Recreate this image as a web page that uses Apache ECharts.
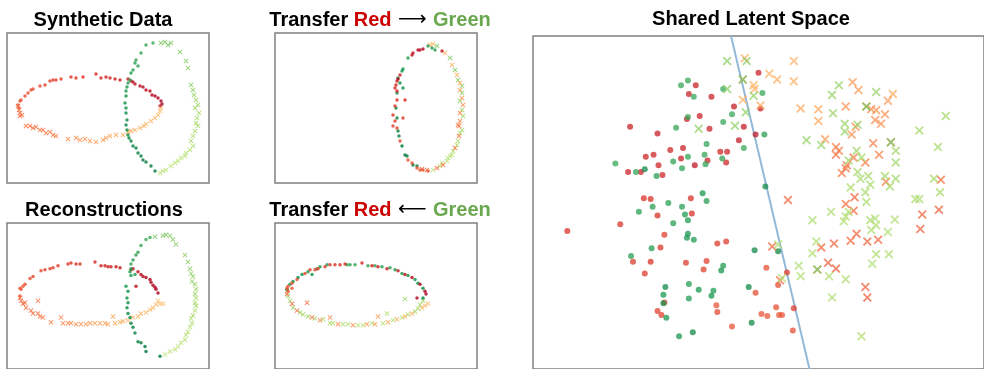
<!DOCTYPE html>
<html>
<head>
<meta charset="utf-8">
<script src="https://cdn.jsdelivr.net/npm/echarts@6/dist/echarts.min.js"></script>
<style>
  html, body { margin: 0; padding: 0; background: #ffffff; }
  #chart { width: 984px; height: 369px; }
</style>
</head>
<body>
<div id="chart"></div>
<script>
// Every point is [x, y, c]: x / y in panel units (y counted downward from the frame top),
// c = position on the red -> yellow -> green colour ramp (0 = deep red, 1 = deep green).

// ---- Synthetic Data ----
const synthRed = [[11,72,.17],[12,75,.17],[13,68,.17],[14,67,.17],[18,63,.16],[21,60,.16],[24,57,.16],[26,56,.15],[33,53,.15],[38,52,.14],[43,48,.14],[46,47,.13],[49,47,.13],[54,46,.13],[64,44,.12],[69,45,.12],[76,44,.11],[89,41,.1],[94,45,.1],[99,44,.09],[103,45,.09],[108,46,.08],[113,47,.08],[121,46,.07],[124,48,.06],[126,49,.05],[128,51,.05],[133,53,.05],[136,54,.04],[139,57,.04],[143,58,.04],[145,62,.03],[148,63,.03],[151,65,.03],[154,68,.02],[155,71,.02],[153,73,.02]];
const synthOrange = [[11,73,.2],[12,77,.2],[13,80,.2],[13,83,.2],[15,82,.2],[19,93,.21],[23,93,.21],[26,95,.21],[29,94,.22],[33,97,.22],[36,97,.22],[39,100,.23],[43,99,.23],[46,102,.23],[49,103,.24],[61,106,.25],[69,105,.25],[73,107,.26],[78,106,.26],[83,108,.27],[89,109,.27],[96,107,.28],[99,105,.28],[103,103,.29],[109,102,.29],[116,102,.3],[121,99,.3],[124,98,.3],[128,97,.31],[133,95,.31],[137,93,.31],[139,91,.32],[144,88,.32],[148,85,.32],[151,82,.33],[153,78,.33],[154,75,.33]];
const synthGreenDot = [[139,12,.85],[146,10,.85],[134,20,.86],[129,27,.86],[128,30,.87],[131,33,.87],[126,37,.87],[124,40,.88],[123,47,.88],[121,50,.88],[120,54,.89],[119,58,.89],[119,63,.9],[118,70,.9],[119,75,.9],[119,80,.91],[120,87,.91],[119,92,.92],[120,97,.92],[121,102,.92],[122,105,.93],[124,108,.93],[126,113,.93],[129,115,.94],[131,120,.94],[134,123,.94],[136,127,.95],[139,129,.95],[144,133,.95],[148,138,.95]];
const synthGreenX = [[154,10,.76],[158,9,.76],[161,12,.76],[164,10,.75],[173,19,.75],[179,28,.75],[181,35,.74],[184,52,.73],[186,57,.73],[187,62,.72],[189,67,.72],[191,72,.71],[188,75,.71],[192,80,.7],[190,85,.7],[189,90,.7],[191,93,.69],[188,98,.69],[186,103,.68],[184,108,.68],[186,113,.67],[183,117,.67],[179,120,.66],[178,123,.66],[174,125,.66],[171,128,.65],[168,130,.65],[164,133,.65],[159,137,.65],[156,138,.65],[153,140,.65]];

// ---- Reconstructions ----
const reconRed = [[13,67,.17],[16,65,.17],[18,63,.16],[23,57,.16],[26,55,.15],[34,49,.15],[38,48,.14],[43,47,.14],[46,46,.13],[51,44,.13],[61,42,.12],[64,41,.12],[69,42,.11],[73,42,.11],[88,40,.1],[94,44,.09],[98,44,.09],[101,45,.08],[104,45,.08],[109,45,.07],[113,46,.07],[124,48,.06],[126,47,.05],[131,50,.05],[134,53,.04],[136,55,.04],[139,56,.04],[143,58,.03],[144,61,.03],[146,64,.03],[148,66,.02],[149,68,.02],[151,72,.02],[129,65,.05],[14,68,.17],[13,75,.17]];
const reconOrange = [[13,77,.2],[14,80,.2],[16,83,.2],[18,82,.2],[19,87,.21],[24,90,.21],[26,93,.21],[31,93,.22],[33,96,.22],[36,97,.22],[31,80,.21],[44,102,.23],[54,97,.24],[56,103,.24],[61,103,.25],[64,103,.25],[69,104,.26],[74,104,.26],[79,104,.27],[83,103,.27],[88,103,.28],[93,103,.28],[98,103,.28],[101,104,.29],[106,96,.29],[108,103,.29],[113,102,.3],[116,101,.3],[121,100,.3],[126,97,.31],[131,96,.31],[134,93,.31],[139,92,.32],[143,89,.32],[146,87,.32],[149,84,.33],[153,83,.33],[156,83,.33],[151,80,.33]];
const reconGreenDot = [[139,17,.85],[143,15,.85],[134,23,.86],[131,30,.86],[129,33,.87],[126,38,.87],[124,42,.87],[124,47,.88],[123,50,.88],[124,54,.88],[128,53,.88],[119,65,.89],[121,70,.9],[120,77,.9],[121,82,.91],[120,87,.91],[121,93,.92],[123,97,.92],[124,103,.93],[126,107,.93],[128,113,.93],[131,122,.94],[134,123,.94],[138,127,.95],[139,132,.95],[153,137,.95]];
const reconGreenX = [[148,14,.76],[156,13,.76],[159,12,.76],[163,13,.75],[166,17,.75],[169,22,.75],[178,33,.74],[181,40,.74],[183,47,.73],[184,52,.73],[186,55,.72],[185,60,.72],[188,63,.72],[189,68,.71],[188,73,.71],[189,77,.7],[188,82,.7],[189,85,.7],[188,90,.69],[186,95,.69],[184,98,.68],[185,103,.68],[183,107,.67],[181,112,.67],[179,115,.66],[178,120,.66],[174,123,.66],[171,127,.65],[168,130,.65],[163,132,.65],[158,135,.65]];

// ---- Transfer Red -> Green ----
const toGreenRed = [[137,22,.05],[138,20,.05],[143,17,.04],[148,16,.03],[145,17,.04],[125,42,.08],[122,48,.08],[121,52,.09],[120,55,.1],[130,67,.1],[122,67,.11],[120,73,.12],[118,82,.12],[120,88,.13],[128,85,.13],[118,93,.14],[122,95,.14],[125,108,.15],[133,127,.16],[137,130,.16],[142,135,.17],[145,137,.17],[148,137,.17],[153,138,.17],[167,18,.06],[123,46,.03],[122,58,.09]];
const toGreenGreenDot = [[153,13,.88],[157,15,.88],[160,17,.87],[133,25,.88],[127,38,.9],[123,45,.9],[128,55,.91],[125,50,.91],[122,60,.92],[121,75,.93],[122,85,.93],[123,98,.94],[124,103,.94],[127,113,.95],[130,122,.95],[132,123,.95],[138,132,.95],[142,133,.95],[128,36,.9]];
const toGreenOrange = [[155,12,.32],[158,11,.32],[170,20,.31],[177,32,.31],[182,42,.3],[185,50,.29],[185,57,.28],[187,65,.27],[188,72,.26],[185,80,.25],[185,88,.24],[184,93,.23],[184,103,.22],[180,115,.21],[168,132,.21],[162,135,.2],[152,137,.2],[147,136,.2],[183,92,.22]];
const toGreenGreenX = [[162,13,.76],[175,25,.75],[180,37,.75],[183,47,.74],[187,53,.73],[187,60,.73],[185,68,.72],[187,77,.71],[188,83,.7],[187,97,.69],[185,100,.69],[183,108,.68],[182,112,.67],[178,118,.67],[177,122,.66],[173,125,.66],[172,128,.65],[165,133,.65],[158,137,.65],[167,130,.65],[175,123,.66]];

// ---- Transfer Red <- Green ----
const toRedRed = [[12,67,.17],[13,65,.17],[17,62,.16],[22,58,.16],[30,52,.15],[35,48,.14],[40,48,.14],[43,47,.13],[50,45,.13],[55,43,.12],[60,43,.12],[65,43,.11],[70,42,.11],[87,41,.1],[97,44,.09],[103,45,.08],[112,47,.07],[123,49,.06],[130,53,.05],[137,56,.04],[145,63,.03],[150,70,.02],[151,73,.02],[142,77,.03],[17,67,.17],[13,70,.17]];
const toRedGreenDot = [[15,63,.9],[18,60,.9],[23,56,.9],[27,53,.9],[33,50,.89],[37,53,.89],[42,47,.88],[45,45,.88],[52,43,.88],[72,43,.87],[75,43,.87],[80,43,.86],[93,44,.86],[100,44,.86],[107,45,.87],[115,46,.87],[120,48,.88],[127,52,.88],[133,54,.89],[140,58,.9],[143,62,.91],[148,67,.92],[148,77,.93],[12,68,.95]];
const toRedOrange = [[17,83,.2],[22,90,.21],[32,82,.21],[37,97,.22],[45,100,.23],[55,97,.24],[63,104,.25],[78,105,.26],[92,104,.27],[100,104,.28],[103,96,.28],[113,102,.29],[122,99,.3],[130,96,.31],[137,93,.31],[147,87,.32],[150,85,.33],[153,83,.33],[12,73,.2]];
const toRedGreenX = [[12,70,.72],[13,75,.72],[15,80,.71],[18,87,.71],[25,92,.7],[28,94,.7],[33,96,.7],[40,98,.69],[48,99,.69],[55,103,.68],[58,103,.68],[68,104,.67],[73,104,.67],[83,105,.66],[88,105,.66],[97,103,.66],[108,103,.66],[112,93,.67],[118,100,.67],[127,97,.68],[133,94,.68],[140,91,.69],[143,88,.7],[145,84,.7],[148,80,.71],[130,78,.72]];

// ---- Shared Latent Space ----
const latentRed = [
  [166,51,.07],[159,60,.07],[182,63,.07],[205,73,.06],[170,83,.07],[157,86,.07],[215,94,.06],[180,96,.07],[99,94,.07],[127,101,.07],[210,108,.06],[153,116,.07],[140,118,.08],[123,123,.08],[115,125,.08],[191,120,.08],[198,120,.08],[151,127,.07],[197,131,.08],[178,129,.07],[165,134,.05],[128,134,.08],[97,141,.07],[110,141,.07],[132,144,.08],[227,102,.05],[230,38,.07],[232,75,.07],
  [113,168,.1],[120,169,.1],[161,168,.1],[127,186,.1],[162,184,.1],[89,195,.11],[35,202,.1],[134,206,.12],[188,215,.12],[197,213,.12],[130,219,.11],[102,234,.12],[120,234,.11],[156,235,.12],[177,233,.13],[174,242,.13],[114,246,.12],[127,285,.13],[131,289,.13],[134,276,.12],
  [238,240,.15],[259,245,.12],[250,258,.15],[227,266,.15],[248,281,.15],[266,282,.12],[233,288,.16],[239,290,.16],[251,289,.16],[254,289,.16],[265,305,.15],[203,301,.16],[187,279,.16],[188,286,.14]
];
const latentGreenDot = [
  [194,55,.86],[151,51,.86],[158,46,.86],[164,63,.86],[203,81,.86],[158,84,.86],[194,89,.86],[146,95,.86],[215,116,.86],[177,112,.87],[175,123,.86],[158,125,.87],[193,127,.87],[143,130,.87],[176,133,.87],[152,137,.87],[84,132,.86],[105,141,.87],[114,138,.93],[126,145,.88],[173,163,.9],[234,59,.86],[236,102,.88],
  [237,156,.92],[177,171,.88],[122,177,.88],[138,173,.88],[152,177,.88],[108,182,.88],[155,185,.89],[158,191,.89],[143,194,.88],[158,205,.9],[157,209,.9],[164,211,.89],[121,220,.89],[100,228,.88],[194,238,.89],[192,243,.9],[226,222,.93],[250,223,.93],[135,260,.93],[159,257,.89],[169,263,.9],[184,264,.89],[182,269,.9],[220,260,.93],[133,268,.9],[159,272,.89],[133,277,.91],[136,292,.9],[223,297,.93],[163,307,.93],[149,311,.9]
];
const latentOrange = [
  [216,23,.31],[225,51,.31],[214,66,.31],[226,55,.31],[241,39,.31],[249,45,.3],[266,26,.31],[266,47,.31],[232,72,.3],[273,75,.29],[291,76,.29],[291,88,.29],[214,45,.31],
  [298,107,.27],[319,73,.26],[325,102,.26],[329,94,.26],[326,48,.27],[332,56,.27],[367,60,.29],[362,67,.27],[345,76,.26],[350,77,.26],[359,81,.26],[349,87,.25],[355,91,.26],[340,73,.28],[365,110,.27],
  [309,115,.23],[312,119,.23],[309,123,.22],[347,111,.23],[353,123,.23],[327,126,.22],[320,134,.22],[339,131,.22],[315,142,.22],[319,137,.22],[360,151,.22],[416,149,.2],
  [260,170,.19],[328,167,.19],[319,174,.2],[327,181,.2],[397,185,.19],[414,180,.18],[395,200,.18],[330,205,.19],[324,212,.2],[341,213,.19],[352,211,.19],[307,215,.19],[294,219,.19],[244,218,.19],[301,235,.18],[309,241,.18],[252,253,.2],[339,260,.18],[341,271,.18],[290,242,.3]
];
const latentGreenX = [
  [198,26,.74],[218,26,.74],[198,55,.74],[225,62,.73],[217,79,.73],[169,96,.73],[206,93,.73],[305,61,.72],[306,80,.72],[312,51,.72],[350,58,.72],[318,91,.72],[318,99,.72],[331,92,.72],[279,108,.73],[294,113,.72],[330,119,.71],[322,129,.71],[331,141,.7],[342,145,.7],[334,148,.7],[359,145,.7],[370,148,.71],[370,119,.71],[370,131,.71],[421,83,.7],[394,98,.7],[413,115,.7],[409,148,.7],[324,157,.69],[344,154,.7],[364,156,.7],[415,162,.69],[335,126,.7],[340,172,.69],[339,162,.69],
  [322,182,.68],[319,187,.68],[317,192,.68],[344,191,.69],[349,189,.68],[350,196,.68],[345,201,.68],[362,203,.68],[369,190,.68],[304,182,.68],[285,191,.68],[390,169,.69],[394,169,.69],[289,213,.68],[285,225,.68],[250,216,.68],[350,226,.68],[363,226,.68],[346,236,.68],[271,238,.68],[273,249,.68],[302,249,.68],[319,252,.68],[254,251,.68],[305,271,.68],[335,311,.68],
  [214,45,.78],[340,73,.78],[365,110,.78],[290,242,.78]
];
// linear separator drawn through the latent space
const separator = [[202,0],[282,345]];

const titleFont = '"Liberation Sans", Arial, sans-serif';
const RAMP = ['#a50026','#d73027','#f46d43','#fdae61','#fee08b','#ffffbf','#d9ef8b','#a6d96a','#66bd63','#1a9850','#006837'];
const CROSS = 'path://M0,1.4L1.4,0L5,3.6L8.6,0L10,1.4L6.4,5L10,8.6L8.6,10L5,6.4L1.4,10L0,8.6L3.6,5Z';

const panels = [
  { left: 7,   top: 33,  width: 202, height: 150, xMax: 202, yMax: 150, small: true,
    groups: [[synthRed,'dot'],[synthOrange,'cross'],[synthGreenDot,'dot'],[synthGreenX,'cross']] },
  { left: 7,   top: 223, width: 202, height: 150, xMax: 202, yMax: 150, small: true,
    groups: [[reconRed,'dot'],[reconOrange,'cross'],[reconGreenDot,'dot'],[reconGreenX,'cross']] },
  { left: 275, top: 33,  width: 202, height: 150, xMax: 202, yMax: 150, small: true,
    groups: [[toGreenGreenX,'cross'],[toGreenOrange,'cross'],[toGreenGreenDot,'dot'],[toGreenRed,'dot']] },
  { left: 275, top: 223, width: 202, height: 150, xMax: 202, yMax: 150, small: true,
    groups: [[toRedGreenX,'cross'],[toRedOrange,'cross'],[toRedGreenDot,'dot'],[toRedRed,'dot']] },
  { left: 533, top: 36,  width: 460, height: 345, xMax: 460, yMax: 345, small: false,
    groups: [[latentRed,'dot'],[latentGreenDot,'dot'],[latentOrange,'cross'],[latentGreenX,'cross']] }
];

const grid = [], xAxis = [], yAxis = [], series = [], scatterIdx = [];
panels.forEach((p, i) => {
  grid.push({ left: p.left, top: p.top, width: p.width, height: p.height,
              show: true, borderColor: '#808080', borderWidth: 1.5, backgroundColor: '#ffffff' });
  const hidden = { show: true, axisLine: { show: false }, axisTick: { show: false },
                   axisLabel: { show: false }, splitLine: { show: false } };
  xAxis.push(Object.assign({ type: 'value', gridIndex: i, min: 0, max: p.xMax }, hidden));
  yAxis.push(Object.assign({ type: 'value', gridIndex: i, min: 0, max: p.yMax, inverse: true }, hidden));
  p.groups.forEach(([data, kind]) => {
    scatterIdx.push(series.length);
    series.push({
      type: 'scatter', xAxisIndex: i, yAxisIndex: i, data: data,
      symbol: kind === 'dot' ? 'circle' : CROSS,
      symbolSize: kind === 'dot' ? (p.small ? 3.5 : 6) : (p.small ? 5 : 9),
      itemStyle: { opacity: p.small ? 0.85 : 0.75 },
      silent: true
    });
  });
});
series.push({
  type: 'line', xAxisIndex: 4, yAxisIndex: 4, data: separator,
  symbol: 'none', lineStyle: { color: '#93b9d8', width: 2 }, silent: true, z: 1
});

function title(text, x, y, rich) {
  return { type: 'text', x: x, y: y, silent: true,
    style: { text: text, align: 'center', verticalAlign: 'middle',
             font: 'bold 20px ' + titleFont, fill: '#000000', rich: rich } };
}
const richTitle = {
  k: { fontSize: 20, fontWeight: 'bold', fontFamily: titleFont, fill: '#000000' },
  r: { fontSize: 20, fontWeight: 'bold', fontFamily: titleFont, fill: '#cc0000' },
  a: { fontSize: 20, fontWeight: 'normal', fontFamily: '"DejaVu Sans", sans-serif', fill: '#000000' },
  g: { fontSize: 20, fontWeight: 'bold', fontFamily: titleFont, fill: '#6aa84f' }
};

const chart = echarts.init(document.getElementById('chart'), null, { renderer: 'canvas' });
chart.setOption({
  animation: false,
  backgroundColor: '#ffffff',
  grid: grid, xAxis: xAxis, yAxis: yAxis, series: series,
  visualMap: {
    type: 'continuous', show: false, dimension: 2, min: 0, max: 1,
    seriesIndex: scatterIdx, inRange: { color: RAMP }
  },
  graphic: [
    title('Synthetic Data', 103, 20),
    title('Reconstructions', 104, 210),
    title('{k|Transfer }{r|Red}{a| \u27f6 }{g|Green}', 380, 20, richTitle),
    title('{k|Transfer }{r|Red}{a| \u27f5 }{g|Green}', 380, 210, richTitle),
    title('Shared Latent Space', 751, 19)
  ]
});
</script>
</body>
</html>
